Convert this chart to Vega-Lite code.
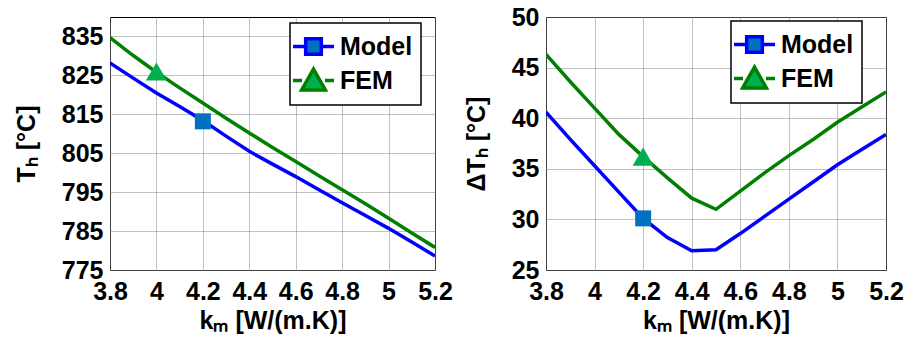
{
  "$schema": "https://vega.github.io/schema/vega-lite/v6.json",
  "padding": {"left": 13, "top": 4, "right": 0, "bottom": 0},
  "background": "white",
  "spacing": 10,
  "config": {
    "font": "Liberation Sans",
    "view": {"stroke": "black", "strokeWidth": 1},
    "axis": {
      "labelFont": "Liberation Sans", "labelFontWeight": "bold", "labelFontSize": 25, "labelColor": "black",
      "titleFont": "Liberation Sans", "titleFontWeight": "bold", "titleFontSize": 25, "titleColor": "black",
      "domain": false, "grid": true, "gridColor": "#808080", "gridDash": [1, 1], "gridWidth": 1,
      "ticks": false
    },
    "axisX": {"labelPadding": 9, "titlePadding": 4, "labelFlush": false},
    "axisY": {"labelPadding": 7, "titlePadding": 22, "labelFlush": false},
    "legend": {
      "orient": "none", "title": null,
      "strokeColor": "black", "strokeWidth": 1.5, "fillColor": "white",
      "padding": 8, "rowPadding": 0, "labelOffset": 11,
      "labelFont": "Liberation Sans", "labelFontWeight": "bold", "labelFontSize": 25, "labelColor": "black",
      "symbolSize": 729, "symbolStrokeWidth": 3.5
    }
  },
  "datasets": {
    "lines": [
      {"panel": "L", "series": "Model", "k": 3.8, "value": 828.2},
      {"panel": "L", "series": "Model", "k": 3.9, "value": 824.3},
      {"panel": "L", "series": "Model", "k": 4.0, "value": 820.5},
      {"panel": "L", "series": "Model", "k": 4.1, "value": 817.0},
      {"panel": "L", "series": "Model", "k": 4.2, "value": 813.4},
      {"panel": "L", "series": "Model", "k": 4.3, "value": 809.4},
      {"panel": "L", "series": "Model", "k": 4.4, "value": 805.5},
      {"panel": "L", "series": "Model", "k": 4.5, "value": 802.2},
      {"panel": "L", "series": "Model", "k": 4.6, "value": 799.0},
      {"panel": "L", "series": "Model", "k": 4.7, "value": 795.6},
      {"panel": "L", "series": "Model", "k": 4.8, "value": 792.3},
      {"panel": "L", "series": "Model", "k": 4.9, "value": 789.0},
      {"panel": "L", "series": "Model", "k": 5.0, "value": 785.7},
      {"panel": "L", "series": "Model", "k": 5.1, "value": 782.2},
      {"panel": "L", "series": "Model", "k": 5.2, "value": 778.6},
      {"panel": "L", "series": "FEM", "k": 3.8, "value": 834.7},
      {"panel": "L", "series": "FEM", "k": 3.9, "value": 830.1},
      {"panel": "L", "series": "FEM", "k": 4.0, "value": 825.8},
      {"panel": "L", "series": "FEM", "k": 4.1, "value": 821.8},
      {"panel": "L", "series": "FEM", "k": 4.2, "value": 817.9},
      {"panel": "L", "series": "FEM", "k": 4.3, "value": 814.0},
      {"panel": "L", "series": "FEM", "k": 4.4, "value": 810.2},
      {"panel": "L", "series": "FEM", "k": 4.5, "value": 806.5},
      {"panel": "L", "series": "FEM", "k": 4.6, "value": 802.9},
      {"panel": "L", "series": "FEM", "k": 4.7, "value": 799.2},
      {"panel": "L", "series": "FEM", "k": 4.8, "value": 795.6},
      {"panel": "L", "series": "FEM", "k": 4.9, "value": 792.0},
      {"panel": "L", "series": "FEM", "k": 5.0, "value": 788.3},
      {"panel": "L", "series": "FEM", "k": 5.1, "value": 784.5},
      {"panel": "L", "series": "FEM", "k": 5.2, "value": 780.8},
      {"panel": "R", "series": "Model", "k": 3.8, "value": 40.6},
      {"panel": "R", "series": "Model", "k": 3.9, "value": 37.9},
      {"panel": "R", "series": "Model", "k": 4.0, "value": 35.3},
      {"panel": "R", "series": "Model", "k": 4.1, "value": 32.7},
      {"panel": "R", "series": "Model", "k": 4.2, "value": 30.1},
      {"panel": "R", "series": "Model", "k": 4.3, "value": 28.2},
      {"panel": "R", "series": "Model", "k": 4.4, "value": 26.9},
      {"panel": "R", "series": "Model", "k": 4.5, "value": 27.0},
      {"panel": "R", "series": "Model", "k": 4.6, "value": 28.6},
      {"panel": "R", "series": "Model", "k": 4.7, "value": 30.3},
      {"panel": "R", "series": "Model", "k": 4.8, "value": 32.0},
      {"panel": "R", "series": "Model", "k": 4.9, "value": 33.7},
      {"panel": "R", "series": "Model", "k": 5.0, "value": 35.4},
      {"panel": "R", "series": "Model", "k": 5.1, "value": 36.9},
      {"panel": "R", "series": "Model", "k": 5.2, "value": 38.4},
      {"panel": "R", "series": "FEM", "k": 3.8, "value": 46.3},
      {"panel": "R", "series": "FEM", "k": 3.9, "value": 43.6},
      {"panel": "R", "series": "FEM", "k": 4.0, "value": 41.0},
      {"panel": "R", "series": "FEM", "k": 4.1, "value": 38.4},
      {"panel": "R", "series": "FEM", "k": 4.2, "value": 36.2},
      {"panel": "R", "series": "FEM", "k": 4.3, "value": 34.1},
      {"panel": "R", "series": "FEM", "k": 4.4, "value": 32.1},
      {"panel": "R", "series": "FEM", "k": 4.5, "value": 31.0},
      {"panel": "R", "series": "FEM", "k": 4.6, "value": 32.8},
      {"panel": "R", "series": "FEM", "k": 4.7, "value": 34.6},
      {"panel": "R", "series": "FEM", "k": 4.8, "value": 36.3},
      {"panel": "R", "series": "FEM", "k": 4.9, "value": 37.9},
      {"panel": "R", "series": "FEM", "k": 5.0, "value": 39.6},
      {"panel": "R", "series": "FEM", "k": 5.1, "value": 41.1},
      {"panel": "R", "series": "FEM", "k": 5.2, "value": 42.6}
    ],
    "markers": [
      {"panel": "L", "mk": "Model marker", "k": 4.2, "value": 813.2},
      {"panel": "L", "mk": "FEM marker", "k": 4.0, "value": 826.0},
      {"panel": "R", "mk": "Model marker", "k": 4.2, "value": 30.1},
      {"panel": "R", "mk": "FEM marker", "k": 4.2, "value": 36.2}
    ]
  },
  "resolve": {"scale": {"color": "independent", "fill": "independent", "shape": "independent", "size": "independent"}, "legend": {"color": "independent"}},
  "hconcat": [
    {
      "width": 325, "height": 253,
      "layer": [
        {
          "data": {"name": "lines"},
          "transform": [{"filter": "datum.panel === 'L'"}],
          "mark": {"type": "line", "strokeWidth": 3.5, "clip": true},
          "encoding": {
            "x": {"field": "k", "type": "quantitative", "scale": {"domain": [3.8, 5.2], "nice": false}, "axis": {"values": [3.8, 4, 4.2, 4.4, 4.6, 4.8, 5, 5.2], "format": "~g", "title": "kₘ [W/(m.K)]"}},
            "y": {"field": "value", "type": "quantitative", "scale": {"domain": [775, 840], "nice": false, "zero": false}, "axis": {"values": [775, 785, 795, 805, 815, 825, 835], "title": "Tₕ [°C]"}},
            "color": {"field": "series", "type": "nominal", "scale": {"domain": ["Model", "FEM"], "range": ["#0000FF", "#008000"]},
              "legend": {"legendX": 180, "legendY": 6,
                "encode": {"symbols": {"update": {
                  "shape": {"signal": "datum.value === 'Model' ? 'M-1.52,0H-0.62M0.62,0H1.52M-0.58,-0.58H0.58V0.58H-0.58Z' : 'M-1.52,0H-0.85M0.85,0H1.52M0,-0.85L0.88,0.7H-0.88Z'"},
                  "fill": {"signal": "datum.value === 'Model' ? '#0070C0' : '#00B050'"}
                }}}}}
          }
        },
        {
          "data": {"name": "markers"},
          "transform": [{"filter": "datum.panel === 'L'"}],
          "mark": {"type": "point", "filled": true, "opacity": 1},
          "encoding": {
            "x": {"field": "k", "type": "quantitative"},
            "y": {"field": "value", "type": "quantitative"},
            "fill": {"field": "mk", "type": "nominal", "scale": {"domain": ["Model marker", "FEM marker"], "range": ["#0070C0", "#00B050"]}, "legend": null},
            "shape": {"field": "mk", "type": "nominal", "scale": {"domain": ["Model marker", "FEM marker"], "range": ["square", "triangle-up"]}, "legend": null},
            "size": {"field": "mk", "type": "nominal", "scale": {"domain": ["Model marker", "FEM marker"], "range": [256, 441]}, "legend": null}
          }
        }
      ]
    },
    {
      "width": 340, "height": 253,
      "layer": [
        {
          "data": {"name": "lines"},
          "transform": [{"filter": "datum.panel === 'R'"}],
          "mark": {"type": "line", "strokeWidth": 3.5, "clip": true},
          "encoding": {
            "x": {"field": "k", "type": "quantitative", "scale": {"domain": [3.8, 5.2], "nice": false}, "axis": {"values": [3.8, 4, 4.2, 4.4, 4.6, 4.8, 5, 5.2], "format": "~g", "title": "kₘ [W/(m.K)]"}},
            "y": {"field": "value", "type": "quantitative", "scale": {"domain": [25, 50], "nice": false, "zero": false}, "axis": {"values": [25, 30, 35, 40, 45, 50], "title": "ΔTₕ [°C]"}},
            "color": {"field": "series", "type": "nominal", "scale": {"domain": ["Model", "FEM"], "range": ["#0000FF", "#008000"]},
              "legend": {"legendX": 185, "legendY": 4,
                "encode": {"symbols": {"update": {
                  "shape": {"signal": "datum.value === 'Model' ? 'M-1.52,0H-0.62M0.62,0H1.52M-0.58,-0.58H0.58V0.58H-0.58Z' : 'M-1.52,0H-0.85M0.85,0H1.52M0,-0.85L0.88,0.7H-0.88Z'"},
                  "fill": {"signal": "datum.value === 'Model' ? '#0070C0' : '#00B050'"}
                }}}}}
          }
        },
        {
          "data": {"name": "markers"},
          "transform": [{"filter": "datum.panel === 'R'"}],
          "mark": {"type": "point", "filled": true, "opacity": 1},
          "encoding": {
            "x": {"field": "k", "type": "quantitative"},
            "y": {"field": "value", "type": "quantitative"},
            "fill": {"field": "mk", "type": "nominal", "scale": {"domain": ["Model marker", "FEM marker"], "range": ["#0070C0", "#00B050"]}, "legend": null},
            "shape": {"field": "mk", "type": "nominal", "scale": {"domain": ["Model marker", "FEM marker"], "range": ["square", "triangle-up"]}, "legend": null},
            "size": {"field": "mk", "type": "nominal", "scale": {"domain": ["Model marker", "FEM marker"], "range": [256, 441]}, "legend": null}
          }
        }
      ]
    }
  ]
}
